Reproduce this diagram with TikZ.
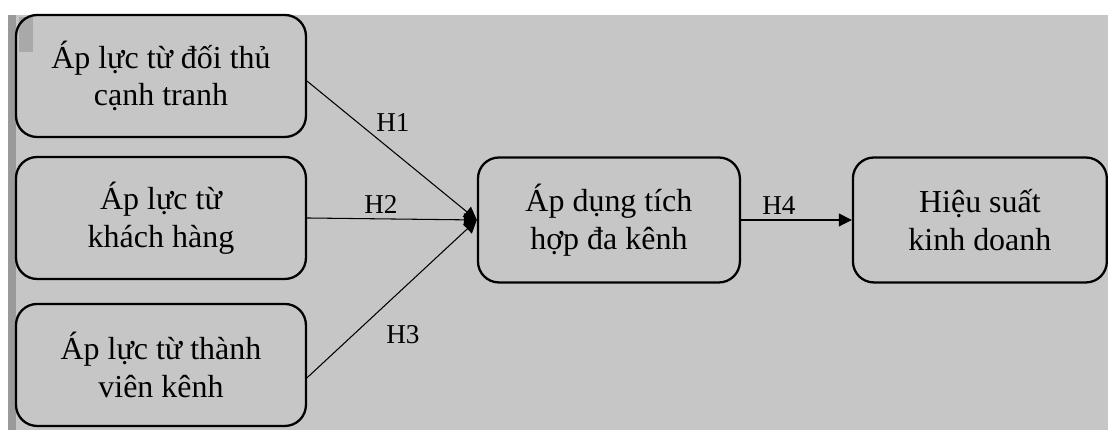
\documentclass[tikz,border=0pt]{standalone}
\usepackage{fontspec}
\setmainfont{Liberation Serif}
\usetikzlibrary{arrows.meta}
\definecolor{bggray}{HTML}{C6C6C6}
\definecolor{edgegray}{HTML}{9A9A9A}
\definecolor{markgray}{HTML}{A9A9A9}

\begin{document}
\begin{tikzpicture}[
  x=0.02cm,y=-0.02cm,
  factor/.style={draw=black,line width=1.3pt,rounded corners=0.42cm,align=center,
    minimum width=5.8cm,minimum height=2.44cm,inner sep=0pt,
    font=\fontsize{18.2}{21.5}\selectfont},
  result/.style={factor,minimum width=5.08cm,minimum height=2.5cm},
  arr/.style={draw=black,line width=0.6pt,-{Triangle[length=0.26cm,width=0.26cm]}},
  hlbl/.style={font=\fontsize{15.5}{17}\selectfont,inner sep=0pt},
]

% background
\fill[white] (0,0) rectangle (1108,430);
\fill[bggray] (8,15) rectangle (1108,430);
\fill[edgegray] (8,15) rectangle (16,430);
\fill[markgray] (19,17) rectangle (33,52);

% boxes
\node[factor] (comp) at (161,76) {Áp lực từ đối thủ\\cạnh tranh};
\node[factor] (cust) at (161,218) {Áp lực từ\\khách hàng};
\node[factor] (memb) at (161,365) {Áp lực từ thành\\viên kênh};
\node[result,minimum width=5.24cm] (omni) at (609,220) {Áp dụng tích\\hợp đa kênh};
\node[result] (perf) at (980,220) {Hiệu suất\\kinh doanh};

% links
\draw[arr] (comp.-2.4) -- (omni.west);
\draw[arr] (cust.east) -- (omni.west);
\draw[arr] (memb.-5) -- (omni.west);
\draw[arr] (omni.east) -- (perf.west);

\node[hlbl] (h1) at (393,123) {H1};
\node[hlbl] (h2) at (381,205) {H2};
\node[hlbl] (h3) at (403,335) {H3};
\node[hlbl] (h4) at (779,206) {H4};
\end{tikzpicture}
\end{document}
